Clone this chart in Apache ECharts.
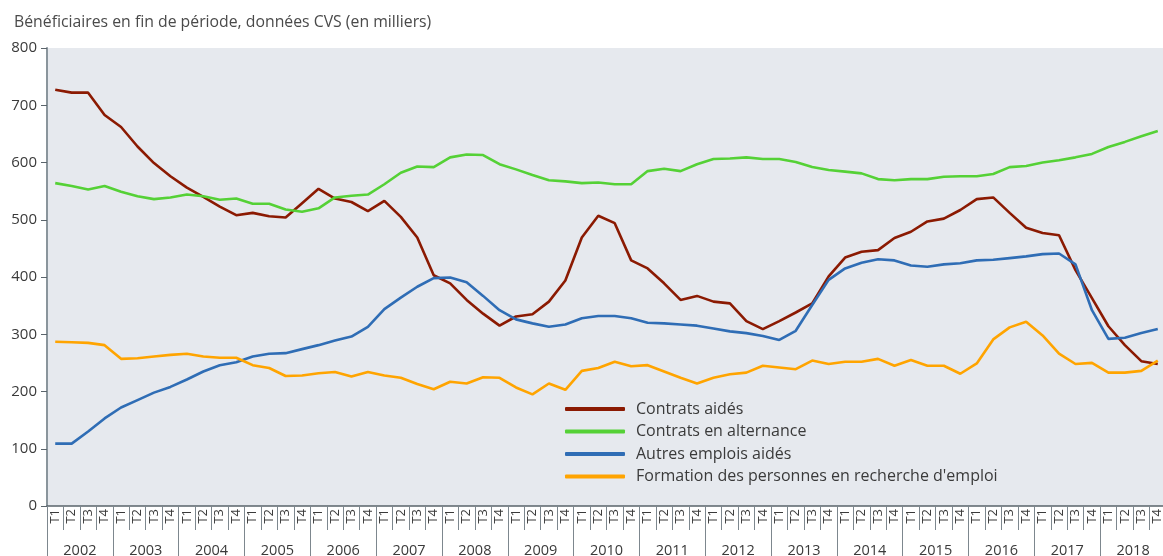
<!DOCTYPE html>
<html><head><meta charset="utf-8">
<script src="https://cdn.jsdelivr.net/npm/echarts@6/dist/echarts.min.js"></script>
<style>html,body{margin:0;padding:0;background:#fff}#c{width:1163px;height:556px}</style>
</head><body><div id="c"></div>
<script>
const years = ['2002','2003','2004','2005','2006','2007','2008','2009','2010','2011','2012','2013','2014','2015','2016','2017','2018'];
const quarters = ['T1','T2','T3','T4'];
const yTicks = [0,100,200,300,400,500,600,700,800];
const contratsAides = [727,722,722,683,662,628,599,576,556,540,523,508,512,506,504,529,554,537,531,515,533,505,469,403,389,360,336,315,331,335,357,394,469,507,494,429,415,389,360,367,357,354,323,309,323,338,354,401,434,444,447,468,479,497,502,517,536,539,512,486,477,473,412,363,314,281,253,248];
const contratsAlternance = [564,559,553,559,549,541,536,539,544,541,535,537,528,528,518,514,520,539,542,544,562,582,593,592,609,614,613,597,588,578,569,567,564,565,562,562,585,589,585,597,606,607,609,606,606,601,592,587,584,581,571,569,571,571,575,576,576,580,592,594,600,604,609,615,627,636,646,655];
const autresEmplois = [109,109,130,153,172,185,198,208,221,235,246,251,261,266,267,274,281,289,296,313,344,364,383,398,399,391,367,342,326,319,313,317,328,332,332,328,320,319,317,315,310,305,302,297,290,306,351,395,415,425,431,429,420,418,422,424,429,430,433,436,440,441,422,342,292,294,302,309];
const formation = [287,286,285,281,257,258,261,264,266,261,259,259,246,241,227,228,232,234,226,234,228,224,213,204,217,214,225,224,207,195,214,203,236,241,252,244,246,235,224,214,224,230,233,245,242,239,254,248,252,252,257,245,255,245,245,231,249,291,312,322,298,266,248,250,233,233,236,254];

const cats = [];
years.forEach(y => quarters.forEach(q => cats.push(y + q)));
const qLabels = cats.map(c => c.slice(4));

const FONT = "'Open Sans', 'Noto Sans', sans-serif";
const chart = echarts.init(document.getElementById('c'), null, {renderer:'canvas'});
const mk = (name, data, color) => ({
  name, type:'line', data, xAxisIndex:0, symbol:'none',
  lineStyle:{color, width:2.6}, itemStyle:{color}
});
chart.setOption({
  animation:false,
  backgroundColor:'#ffffff',
  title:{text:'Bénéficiaires en fin de période, données CVS (en milliers)', left:9, top:9,
    textStyle:{fontFamily:FONT, fontSize:15.8, fontWeight:'normal', color:'#4a4a4a'}},
  grid:{left:47, right:-3, top:48, bottom:50, containLabel:false, outerBoundsMode:'none',
    show:true, backgroundColor:'#e6e9ee', borderWidth:0},
  legend:{orient:'vertical', left:560, top:396, itemWidth:60, itemHeight:4, itemGap:6.5,
    icon:'roundRect',
    textStyle:{fontFamily:FONT, fontSize:16, color:'#3a3a3a', padding:[0,0,0,6]},
    data:['Contrats aidés','Contrats en alternance','Autres emplois aidés',"Formation des personnes en recherche d'emploi"]},
  xAxis:[
    {type:'category', data:qLabels, boundaryGap:true, position:'bottom',
     axisLine:{lineStyle:{color:'#5a646b', width:1.5}},
     axisTick:{show:true, interval:0, length:24, lineStyle:{color:'#7d878e'}},
     axisLabel:{interval:0, rotate:90, margin:3, fontFamily:FONT, fontSize:13, color:'#3a3a3a'}},
    {type:'category', data:years, boundaryGap:true, position:'bottom', offset:24,
     axisLine:{show:false},
     axisTick:{show:true, interval:0, length:30, lineStyle:{color:'#7d878e'}},
     axisLabel:{interval:0, margin:13, fontFamily:FONT, fontSize:14.5, color:'#3a3a3a'}}
  ],
  yAxis:{type:'value', min:yTicks[0], max:yTicks[yTicks.length-1], interval:100,
    axisLine:{show:true, lineStyle:{color:'#8a959c', width:2}},
    axisTick:{show:true, length:6, lineStyle:{color:'#5a646b'}},
    splitLine:{show:false},
    axisLabel:{margin:10, fontFamily:FONT, fontSize:15, color:'#3a3a3a'}},
  series:[
    mk('Contrats aidés', contratsAides, '#8b1a02'),
    mk('Contrats en alternance', contratsAlternance, '#55d136'),
    mk('Autres emplois aidés', autresEmplois, '#2f6db5'),
    mk("Formation des personnes en recherche d'emploi", formation, '#ffa400')
  ]
});
</script></body></html>
